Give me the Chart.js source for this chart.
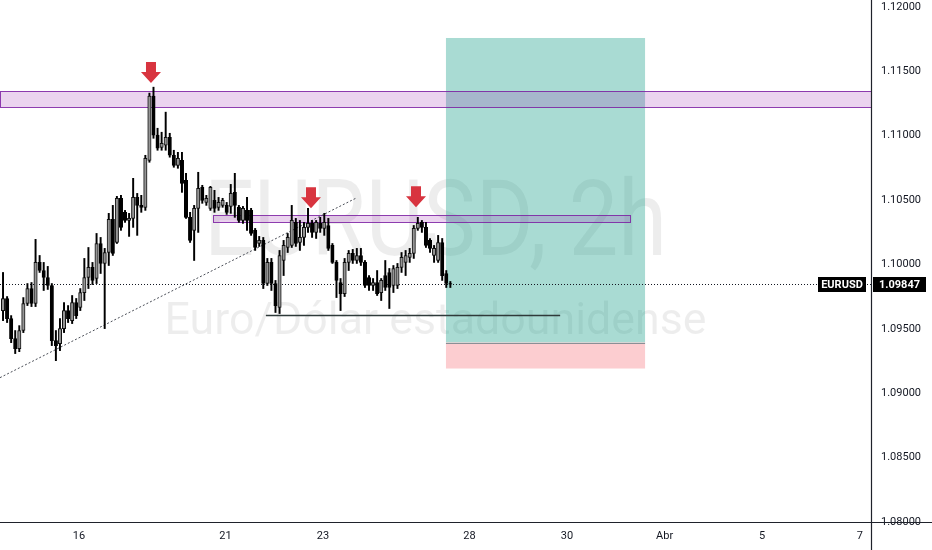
<!DOCTYPE html>
<html>
<head>
<meta charset="utf-8">
<script src="https://cdn.jsdelivr.net/npm/chart.js@4.4.1/dist/chart.umd.min.js"></script>
<style>
  html, body { margin: 0; padding: 0; background: #fff; }
  #wrap { width: 932px; height: 550px; }
</style>
</head>
<body>
<div id="wrap"><canvas id="priceChart"></canvas></div>
<script>
// EURUSD 2h candles (oldest first)
const candleOpen = [
  1.09642, 1.09736, 1.09580, 1.09424, 1.09347, 1.09487, 1.09697, 1.09813, 1.09697, 1.10016,
  1.09953, 1.09899, 1.09837, 1.09409, 1.09385, 1.09502, 1.09642, 1.09564, 1.09704, 1.09666,
  1.09782, 1.09899, 1.09977, 1.09891, 1.10163, 1.10008, 1.10093, 1.10350, 1.10171, 1.10514,
  1.10405, 1.10342, 1.10358, 1.10521, 1.10459, 1.10444, 1.10809, 1.11307, 1.11004, 1.10910,
  1.10926, 1.10988, 1.10848, 1.10770, 1.10809, 1.10654, 1.10366, 1.10265, 1.10436, 1.10599,
  1.10482, 1.10436, 1.10498, 1.10444, 1.10459, 1.10459, 1.10451, 1.10560, 1.10444, 1.10342,
  1.10420, 1.10420, 1.10265, 1.10163, 1.10187, 1.09852, 1.10016, 1.09852, 1.09666, 1.10031,
  1.10132, 1.10148, 1.10327, 1.10171, 1.10210, 1.10288, 1.10319, 1.10249, 1.10319, 1.10280,
  1.10303, 1.10148, 1.10016, 1.09860, 1.09774, 1.10016, 1.10086, 1.10031, 1.10070, 1.10016,
  1.09899, 1.09837, 1.09860, 1.09782, 1.09914, 1.09938, 1.09837, 1.09837, 1.09977, 1.10016,
  1.10055, 1.10086, 1.10280, 1.10327, 1.10288, 1.10187, 1.10070, 1.10031, 1.10171, 1.09930,
  1.09852
];
const candleHigh = [
  1.09938, 1.09751, 1.09603, 1.09487, 1.09525, 1.09743, 1.09852, 1.09860, 1.10195, 1.10070,
  1.10016, 1.09985, 1.09852, 1.09487, 1.09580, 1.09704, 1.09681, 1.09759, 1.09736, 1.09813,
  1.10047, 1.10132, 1.10016, 1.10241, 1.10210, 1.10125, 1.10397, 1.10459, 1.10529, 1.10537,
  1.10420, 1.10397, 1.10669, 1.10552, 1.10537, 1.10848, 1.11331, 1.11377, 1.11058, 1.11027,
  1.11183, 1.11019, 1.10887, 1.10871, 1.10871, 1.10708, 1.10405, 1.10459, 1.10716, 1.10615,
  1.10537, 1.10607, 1.10576, 1.10521, 1.10514, 1.10482, 1.10622, 1.10708, 1.10459, 1.10451,
  1.10521, 1.10436, 1.10280, 1.10218, 1.10210, 1.10047, 1.10047, 1.09876, 1.10109, 1.10187,
  1.10241, 1.10459, 1.10358, 1.10342, 1.10327, 1.10436, 1.10342, 1.10342, 1.10366, 1.10397,
  1.10358, 1.10163, 1.10031, 1.09891, 1.10047, 1.10109, 1.10117, 1.10125, 1.10125, 1.10031,
  1.09914, 1.09891, 1.09953, 1.09891, 1.10031, 1.09969, 1.09992, 1.10008, 1.10093, 1.10109,
  1.10125, 1.10303, 1.10366, 1.10342, 1.10327, 1.10202, 1.10148, 1.10226, 1.10202, 1.09953,
  1.09868
];
const candleLow = [
  1.09564, 1.09549, 1.09393, 1.09308, 1.09323, 1.09471, 1.09681, 1.09673, 1.09673, 1.09938,
  1.09798, 1.09806, 1.09370, 1.09253, 1.09331, 1.09471, 1.09549, 1.09541, 1.09580, 1.09642,
  1.09720, 1.09813, 1.09844, 1.09852, 1.09930, 1.09502, 1.09992, 1.10070, 1.10163, 1.10265,
  1.10327, 1.10218, 1.10288, 1.10226, 1.10405, 1.10420, 1.10794, 1.10980, 1.10887, 1.10887,
  1.10887, 1.10833, 1.10755, 1.10747, 1.10560, 1.10358, 1.10171, 1.10031, 1.10249, 1.10475,
  1.10459, 1.10420, 1.10405, 1.10420, 1.10444, 1.10389, 1.10397, 1.10366, 1.10327, 1.10319,
  1.10265, 1.10226, 1.10109, 1.10140, 1.09813, 1.09837, 1.09798, 1.09627, 1.09619, 1.09914,
  1.10093, 1.10132, 1.10140, 1.10109, 1.10148, 1.10249, 1.10210, 1.10202, 1.10249, 1.10226,
  1.10109, 1.10008, 1.09743, 1.09642, 1.09751, 1.09953, 1.10008, 1.10008, 1.09992, 1.09821,
  1.09798, 1.09798, 1.09759, 1.09720, 1.09798, 1.09658, 1.09782, 1.09813, 1.09938, 1.09914,
  1.10016, 1.10047, 1.10265, 1.10249, 1.10132, 1.10093, 1.10016, 1.10016, 1.09876, 1.09821,
  1.09821
];
const candleClose = [
  1.09736, 1.09580, 1.09424, 1.09347, 1.09487, 1.09697, 1.09813, 1.09697, 1.10016, 1.09953,
  1.09899, 1.09837, 1.09409, 1.09370, 1.09502, 1.09642, 1.09580, 1.09704, 1.09603, 1.09782,
  1.09899, 1.09977, 1.09876, 1.10163, 1.10008, 1.10093, 1.10350, 1.10086, 1.10514, 1.10288,
  1.10342, 1.10358, 1.10521, 1.10459, 1.10444, 1.10825, 1.11307, 1.11004, 1.10903, 1.10941,
  1.10988, 1.10848, 1.10770, 1.10825, 1.10630, 1.10366, 1.10187, 1.10436, 1.10591, 1.10498,
  1.10514, 1.10599, 1.10436, 1.10482, 1.10498, 1.10405, 1.10552, 1.10459, 1.10342, 1.10436,
  1.10342, 1.10241, 1.10132, 1.10187, 1.09852, 1.10016, 1.09852, 1.09681, 1.10070, 1.10148,
  1.10210, 1.10342, 1.10163, 1.10210, 1.10288, 1.10319, 1.10249, 1.10327, 1.10280, 1.10327,
  1.10125, 1.10016, 1.09876, 1.09774, 1.10016, 1.10086, 1.10031, 1.10070, 1.10016, 1.09837,
  1.09837, 1.09860, 1.09774, 1.09876, 1.09821, 1.09821, 1.09969, 1.09977, 1.10055, 1.10070,
  1.10086, 1.10280, 1.10319, 1.10288, 1.10148, 1.10125, 1.10125, 1.10171, 1.09914, 1.09852,
  1.09847
];

// time axis in trading days, 0 = 16 Mar 00:00
const firstCandleDay = -1.557;
const candlesPerDay = 12;
const xMin = -1.619;
const xMax = 16.23;
const xTickDays = [0, 3, 5, 8, 10, 12, 14, 16];
const xTickLabels = ['16', '21', '23', '28', '30', 'Abr', '5', '7'];

const yMin = 1.08;
const yMax = 1.12054;
const yTicks = [1.08, 1.085, 1.09, 1.095, 1.10, 1.105, 1.11, 1.115, 1.12];

const symbol = 'EURUSD';
const lastPrice = 1.09847;

// drawings on the chart (trading days / prices)
const bigZone = { from: xMin, to: xMax, top: 1.11347, bottom: 1.11220 };
const smallZone = { from: 2.746, to: 11.29, top: 1.10382, bottom: 1.10325 };
const longPosition = { from: 7.52, to: 11.60, target: 1.11759, entry: 1.09394, stop: 1.09192 };
const trendLine = { x1: xMin, y1: 1.09121, x2: 5.697, y2: 1.10519 };
const lowLine = { from: 3.83, to: 9.86, price: 1.09604 };
const arrowDays = [1.475, 4.754, 6.906];
const arrowPrices = [1.11409, 1.10436, 1.10444];

const candleDay = i => firstCandleDay + i / candlesPerDay;
const isUp = i => candleClose[i] >= candleOpen[i];

const drawings = {
  id: 'drawings',
  beforeDatasetsDraw(chart) {
    const { ctx, chartArea: a, scales: { x, y } } = chart;
    ctx.save();
    ctx.beginPath();
    ctx.rect(a.left, a.top, a.right - a.left, a.bottom - a.top);
    ctx.clip();

    // watermark
    const cx = (a.left + a.right) / 2;
    const fitText = (txt, size, width, baseline) => {
      ctx.font = size + 'px Roboto';
      const w = ctx.measureText(txt).width;
      ctx.save();
      ctx.translate(cx, baseline);
      ctx.scale(width / w, 1);
      ctx.textAlign = 'center';
      ctx.textBaseline = 'alphabetic';
      ctx.fillStyle = 'rgba(0,0,0,0.07)';
      ctx.fillText(txt, 0, 0);
      ctx.restore();
    };
    fitText('EURUSD, 2h', 105, 463, 255);
    fitText('Euro/Dólar estadounidense', 44, 542, 334);

    // long position box
    const lx1 = x.getPixelForValue(longPosition.from);
    const lx2 = x.getPixelForValue(longPosition.to);
    const yT = y.getPixelForValue(longPosition.target);
    const yE = y.getPixelForValue(longPosition.entry);
    const yS = y.getPixelForValue(longPosition.stop);
    ctx.fillStyle = 'rgba(8,153,129,0.35)';
    ctx.fillRect(lx1, yT, lx2 - lx1, yE - yT);
    ctx.fillStyle = 'rgba(242,54,69,0.25)';
    ctx.fillRect(lx1, yE, lx2 - lx1, yS - yE);
    ctx.strokeStyle = '#8a8f96';
    ctx.lineWidth = 1;
    ctx.beginPath();
    ctx.moveTo(lx1, Math.round(yE) + 0.5);
    ctx.lineTo(lx2, Math.round(yE) + 0.5);
    ctx.stroke();

    // purple zones
    const zone = z => {
      const zx1 = x.getPixelForValue(z.from);
      const zx2 = x.getPixelForValue(z.to);
      const zy1 = y.getPixelForValue(z.top);
      const zy2 = y.getPixelForValue(z.bottom);
      ctx.fillStyle = 'rgba(156,39,176,0.2)';
      ctx.fillRect(zx1, zy1, zx2 - zx1, zy2 - zy1);
      ctx.strokeStyle = 'rgba(123,31,162,0.85)';
      ctx.lineWidth = 1;
      ctx.strokeRect(Math.round(zx1) + 0.5, Math.round(zy1) + 0.5, Math.round(zx2 - zx1), Math.round(zy2 - zy1));
    };
    zone(bigZone);
    zone(smallZone);

    // dotted trend line
    ctx.strokeStyle = '#4a4e57';
    ctx.lineWidth = 1;
    ctx.setLineDash([2, 2]);
    ctx.beginPath();
    ctx.moveTo(x.getPixelForValue(trendLine.x1), y.getPixelForValue(trendLine.y1));
    ctx.lineTo(x.getPixelForValue(trendLine.x2), y.getPixelForValue(trendLine.y2));
    ctx.stroke();

    // last price line
    const py = Math.round(y.getPixelForValue(lastPrice)) + 0.5;
    ctx.strokeStyle = '#131722';
    ctx.setLineDash([1, 2]);
    ctx.beginPath();
    ctx.moveTo(a.left, py);
    ctx.lineTo(a.right, py);
    ctx.stroke();
    ctx.setLineDash([]);

    // horizontal low line
    const ly = Math.round(y.getPixelForValue(lowLine.price)) + 0.5;
    ctx.strokeStyle = '#2f3a3a';
    ctx.lineWidth = 1.5;
    ctx.beginPath();
    ctx.moveTo(x.getPixelForValue(lowLine.from), ly);
    ctx.lineTo(x.getPixelForValue(lowLine.to), ly);
    ctx.stroke();
    ctx.restore();
  },
  afterDatasetsDraw(chart) {
    const { ctx, scales: { x, y } } = chart;
    ctx.save();
    // red arrows
    ctx.fillStyle = '#d8343f';
    arrowDays.forEach((d, i) => {
      const ax = x.getPixelForValue(d);
      const tip = y.getPixelForValue(arrowPrices[i]);
      ctx.beginPath();
      ctx.moveTo(ax - 5, tip - 21);
      ctx.lineTo(ax + 5, tip - 21);
      ctx.lineTo(ax + 5, tip - 11);
      ctx.lineTo(ax + 10, tip - 11);
      ctx.lineTo(ax, tip);
      ctx.lineTo(ax - 10, tip - 11);
      ctx.lineTo(ax - 5, tip - 11);
      ctx.closePath();
      ctx.fill();
    });
    ctx.restore();
  },
  afterDraw(chart) {
    const { ctx, chartArea: a, scales: { y } } = chart;
    ctx.save();
    // axis borders
    ctx.strokeStyle = '#1f222b';
    ctx.lineWidth = 1.2;
    ctx.beginPath();
    ctx.moveTo(a.right + 0.5, 0);
    ctx.lineTo(a.right + 0.5, chart.height);
    ctx.moveTo(0, a.bottom + 0.5);
    ctx.lineTo(chart.width, a.bottom + 0.5);
    ctx.stroke();

    // symbol and price labels
    const py = Math.round(y.getPixelForValue(lastPrice));
    ctx.font = 'bold 11px Roboto';
    ctx.textBaseline = 'middle';
    ctx.textAlign = 'center';
    ctx.fillStyle = '#000';
    ctx.fillRect(a.right - 53, py - 7, 48, 15);
    ctx.fillRect(a.right + 2, py - 7, 53, 15);
    ctx.fillStyle = '#fff';
    ctx.fillText(symbol, a.right - 29, py + 1);
    ctx.fillText(lastPrice.toFixed(5), a.right + 28.5, py + 1);
    ctx.restore();
  }
};

const ctx = document.getElementById('priceChart').getContext('2d');

new Chart(ctx, {
  type: 'bar',
  data: {
    datasets: [
      {
        label: 'wick',
        data: candleLow.map((lo, i) => ({ x: candleDay(i), y: [lo, candleHigh[i]] })),
        backgroundColor: '#000',
        barThickness: 1.3,
        grouped: false,
        order: 2
      },
      {
        label: 'body',
        data: candleOpen.map((o, i) => ({ x: candleDay(i), y: [o, candleClose[i]] })),
        backgroundColor: candleOpen.map((o, i) => isUp(i) ? '#959595' : '#000'),
        borderColor: candleOpen.map((o, i) => isUp(i) ? '#111' : '#000'),
        borderWidth: 1,
        borderSkipped: false,
        barThickness: 3.4,
        grouped: false,
        order: 1
      }
    ]
  },
  options: {
    responsive: true,
    maintainAspectRatio: false,
    animation: false,
    layout: { padding: 0 },
    plugins: {
      legend: { display: false },
      tooltip: { enabled: false }
    },
    scales: {
      x: {
        type: 'linear',
        offset: false,
        min: xMin,
        max: xMax,
        grid: { display: false, drawTicks: false, offset: false },
        border: { display: false },
        ticks: {
          padding: 8,
          maxRotation: 0,
          autoSkip: false,
          color: '#131722',
          font: { family: 'Roboto', size: 11 },
          callback: (v, i) => xTickLabels[i]
        },
        afterBuildTicks: s => { s.ticks = xTickDays.map(v => ({ value: v })); },
        afterFit: s => { s.height = 28; s.paddingLeft = 0; s.paddingRight = 0; }
      },
      y: {
        position: 'right',
        min: yMin,
        max: yMax,
        grid: { display: false, drawTicks: false },
        border: { display: false },
        ticks: {
          padding: 10,
          color: '#131722',
          font: { family: 'Roboto', size: 11 },
          callback: v => v.toFixed(5)
        },
        afterBuildTicks: s => { s.ticks = yTicks.map(v => ({ value: v })); },
        afterFit: s => { s.width = 61; s.paddingTop = 0; s.paddingBottom = 0; }
      }
    }
  },
  plugins: [drawings]
});
</script>
</body>
</html>
